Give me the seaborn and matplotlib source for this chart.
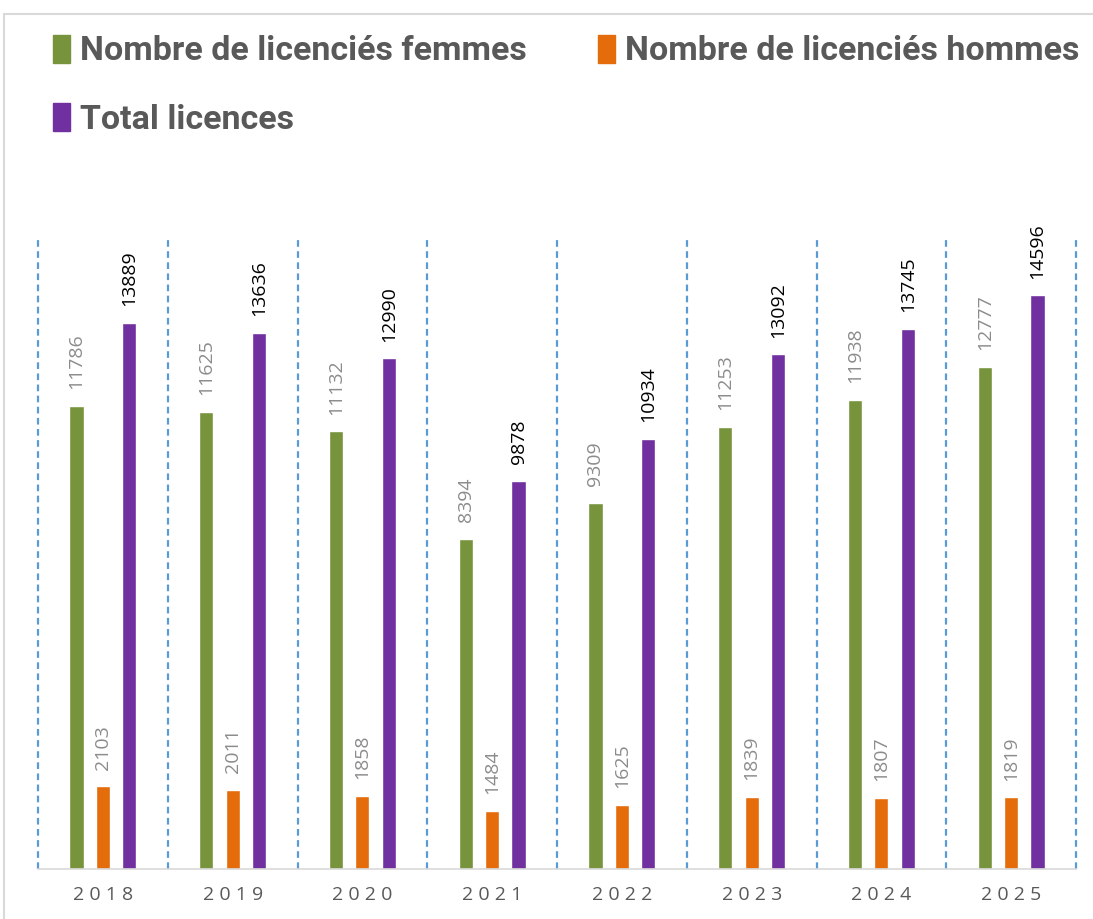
import matplotlib
matplotlib.use("Agg")
import matplotlib.pyplot as plt
from matplotlib.patches import Rectangle
import seaborn as sns
import pandas as pd

years = ["2018", "2019", "2020", "2021", "2022", "2023", "2024", "2025"]
femmes = [11786, 11625, 11132, 8394, 9309, 11253, 11938, 12777]
hommes = [2103, 2011, 1858, 1484, 1625, 1839, 1807, 1819]
total = [13889, 13636, 12990, 9878, 10934, 13092, 13745, 14596]

series = ["Nombre de licenciés femmes", "Nombre de licenciés hommes", "Total licences"]
colors = ["#77933c", "#e46c0a", "#7030a0"]
label_colors = ["#8c8c8c", "#8c8c8c", "#000000"]

df = pd.DataFrame({
    "year": years * 3,
    "serie": [series[0]] * 8 + [series[1]] * 8 + [series[2]] * 8,
    "value": femmes + hommes + total,
})

sns.set_theme(style="white")
plt.rcParams["font.family"] = ["Open Sans", "DejaVu Sans"]

fig = plt.figure(figsize=(10.93, 9.19), dpi=100)
ax = fig.add_axes([38 / 1093, 50 / 919, (1076 - 38) / 1093, (869 - 240) / 919])

sns.barplot(data=df, x="year", y="value", hue="serie", order=years,
            hue_order=series, palette=colors, width=0.61, gap=0.46,
            saturation=1, ax=ax, legend=False, errorbar=None)

# value labels above bars, rotated
for cont, col in zip(ax.containers, label_colors):
    for rect in cont:
        h = rect.get_height()
        ax.annotate(f"{int(round(h))}",
                    (rect.get_x() + rect.get_width() / 2, h),
                    xytext=(0, 12), textcoords="offset points",
                    rotation=90, ha="center", va="bottom",
                    fontsize=14, color=col, family="Open Sans")

ax.set_ylim(0, 16000)
ax.set_xlim(-0.5, 7.5)
ax.set_yticks([])
ax.set_xlabel("")
ax.set_ylabel("")

# dashed separators between categories
ax.set_xticks([i - 0.5 for i in range(len(years) + 1)], minor=True)
ax.grid(True, axis="x", which="minor", color="#5b9bd5", linestyle=(0, (3, 2)), linewidth=1.6)
ax.grid(False, axis="x", which="major")
for t in ax.xaxis.get_minor_ticks():
    t.gridline.set_clip_on(False)
ax.tick_params(axis="x", which="both", length=0)
ax.set_xticks(range(len(years)))
ax.set_xticklabels([" ".join(y) for y in years], fontsize=14, color="#595959",
                   family="Open Sans")
ax.tick_params(axis="x", pad=12)

for side in ["top", "right", "left"]:
    ax.spines[side].set_visible(False)
ax.spines["bottom"].set_color("#d9d9d9")
ax.spines["bottom"].set_linewidth(1.2)

# legend, filled row by row
handles = [Rectangle((0, 0), 1, 1, color=c) for c in colors]
order = [0, 2, 1]
leg = fig.legend([handles[i] for i in order], [series[i] for i in order],
                 loc="upper left", bbox_to_anchor=(22 / 1093, 1 - 4 / 919),
                 ncol=2, frameon=False, handlelength=0.5, handleheight=0.9,
                 handletextpad=0.3, columnspacing=2.1, labelspacing=1.05,
                 prop={"family": "Roboto", "size": 24.5, "weight": "bold"})
for t in leg.get_texts():
    t.set_color("#595959")

# chart border
fig.patches.append(Rectangle((4 / 1093, -0.01), 1.2, 1 - 14 / 919 + 0.01,
                             transform=fig.transFigure, fill=False,
                             edgecolor="#d9d9d9", linewidth=1.5))

fig.savefig("out.png", dpi=100)
